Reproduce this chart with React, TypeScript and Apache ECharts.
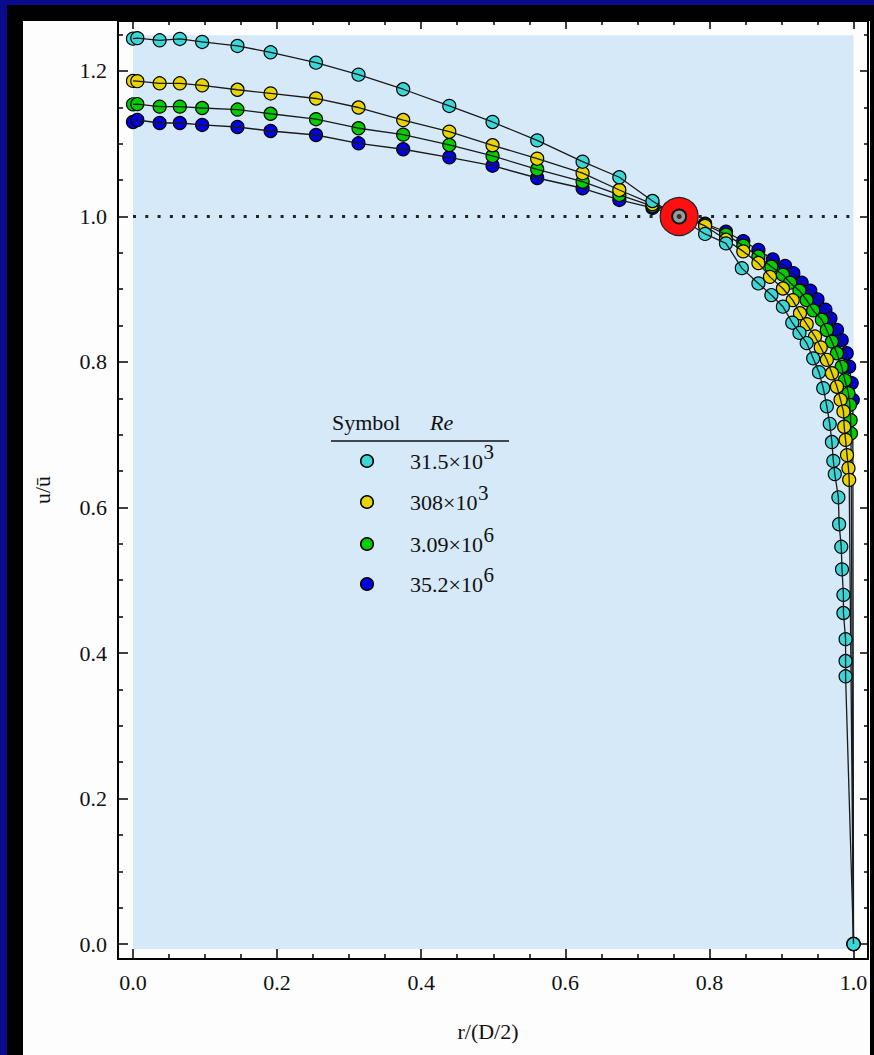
import React, { useEffect, useRef } from "react";
import * as echarts from "echarts";

// ---------- tick values ----------
const xMajor = [0, 0.2, 0.4, 0.6, 0.8, 1.0];
const xMinor = [0.05, 0.1, 0.15, 0.25, 0.3, 0.35, 0.45, 0.5, 0.55, 0.65, 0.7, 0.75, 0.85, 0.9, 0.95];
const yMajor = [0, 0.2, 0.4, 0.6, 0.8, 1.0, 1.2];
const yMinor = [0.05, 0.1, 0.15, 0.25, 0.3, 0.35, 0.45, 0.5, 0.55, 0.65, 0.7, 0.75, 0.85, 0.9, 0.95, 1.05, 1.1, 1.15, 1.25];

// ---------- data ----------
// core-region radial positions (shared by every Re)
const coreX = [0, 0.006, 0.037, 0.065, 0.096, 0.145, 0.191, 0.254, 0.313, 0.375, 0.439, 0.499, 0.561, 0.624, 0.675, 0.721];

const cyanCoreY = [1.2444, 1.2452, 1.2422, 1.244, 1.2399, 1.2344, 1.2257, 1.2114, 1.1949, 1.1749, 1.1519, 1.1299, 1.1046, 1.0753, 1.0539, 1.0213];
const yellowCoreY = [1.1863, 1.186, 1.1831, 1.1831, 1.1803, 1.1742, 1.1691, 1.1622, 1.1498, 1.1326, 1.1165, 1.0979, 1.0794, 1.0595, 1.0364, 1.017];
const greenCoreY = [1.1542, 1.1545, 1.151, 1.151, 1.1491, 1.147, 1.1412, 1.1337, 1.1213, 1.1125, 1.0983, 1.0832, 1.0649, 1.0478, 1.0296, 1.0144];
const blueCoreY = [1.1299, 1.1326, 1.1285, 1.1285, 1.1258, 1.123, 1.1175, 1.112, 1.1006, 1.0924, 1.0814, 1.0698, 1.0529, 1.0388, 1.0227, 1.0117];

// near-wall region, per Re
const cyanWallX = [0.794, 0.823, 0.845, 0.868, 0.886, 0.902, 0.915, 0.925, 0.935, 0.944, 0.952, 0.958, 0.963, 0.967, 0.97, 0.972, 0.974, 0.979, 0.98, 0.983, 0.984, 0.986, 0.986, 0.989, 0.989, 0.989, 1.0];
const cyanWallY = [0.976, 0.963, 0.929, 0.908, 0.892, 0.876, 0.854, 0.84, 0.826, 0.805, 0.786, 0.764, 0.739, 0.715, 0.69, 0.664, 0.646, 0.614, 0.577, 0.546, 0.515, 0.48, 0.455, 0.419, 0.389, 0.368, 0.0];

const yellowWallX = [0.794, 0.823, 0.847, 0.868, 0.884, 0.902, 0.9156, 0.9257, 0.935, 0.9466, 0.9545, 0.963, 0.97, 0.977, 0.982, 0.986, 0.987, 0.989, 0.991, 0.993, 0.994, 1.0];
const yellowWallY = [0.987, 0.968, 0.952, 0.936, 0.917, 0.901, 0.885, 0.867, 0.852, 0.835, 0.82, 0.803, 0.7845, 0.766, 0.748, 0.732, 0.711, 0.693, 0.672, 0.654, 0.638, 0.0];

const greenWallX = [0.794, 0.823, 0.847, 0.868, 0.886, 0.902, 0.912, 0.925, 0.935, 0.944, 0.956, 0.963, 0.97, 0.977, 0.9836, 0.988, 0.993, 0.995, 0.996, 0.9965, 1.0];
const greenWallY = [0.989, 0.975, 0.96, 0.945, 0.931, 0.92, 0.909, 0.898, 0.885, 0.871, 0.858, 0.844, 0.828, 0.812, 0.7935, 0.775, 0.757, 0.741, 0.72, 0.702, 0.0];

const blueWallX = [0.794, 0.823, 0.847, 0.868, 0.888, 0.905, 0.9165, 0.928, 0.94, 0.95, 0.961, 0.968, 0.977, 0.9836, 0.9905, 0.994, 0.9975, 0.999, 1.0];
const blueWallY = [0.99, 0.979, 0.966, 0.954, 0.941, 0.932, 0.922, 0.909, 0.898, 0.886, 0.872, 0.86, 0.844, 0.83, 0.812, 0.7935, 0.771, 0.748, 0.0];

// crossing point u/ū = 1
const crossX = [0.758];
const crossY = [1.0];

// legend
const reMantissa = ["31.5×10", "308×10", "3.09×10", "35.2×10"];
const reExponent = ["3", "3", "6", "6"];
const seriesColors = ["#3cd6d6", "#e8d400", "#00cc00", "#0000e0"];

const FONT = "'Liberation Serif', 'Times New Roman', serif";

function zip(xs: number[], ys: number[]) {
  return xs.map((x, i) => [x, ys[i]]);
}

function measure(text: string, size: number) {
  const ctx = document.createElement("canvas").getContext("2d");
  if (!ctx) return text.length * size * 0.5;
  ctx.font = `${size}px 'Liberation Serif'`;
  return ctx.measureText(text).width;
}

export default function App() {
  const ref = useRef<HTMLDivElement>(null);

  useEffect(() => {
    if (!ref.current) return;
    const chart = echarts.init(ref.current, null, { renderer: "svg" });

    const datasets = [
      { name: "35.2e6", color: seriesColors[3], data: zip(coreX, blueCoreY).concat(zip(blueWallX, blueWallY)) },
      { name: "3.09e6", color: seriesColors[2], data: zip(coreX, greenCoreY).concat(zip(greenWallX, greenWallY)) },
      { name: "308e3", color: seriesColors[1], data: zip(coreX, yellowCoreY).concat(zip(yellowWallX, yellowWallY)) },
      { name: "31.5e3", color: seriesColors[0], data: zip(coreX, cyanCoreY).concat(zip(cyanWallX, cyanWallY)) },
    ];

    const series: any[] = [
      {
        type: "line",
        name: "bg",
        data: [],
        z: 0,
        silent: true,
        markArea: {
          silent: true,
          itemStyle: { color: "#d6e9f9" },
          data: [[{ coord: [0, -0.007] }, { coord: [1.0, 1.249] }]],
        },
      },
      {
        type: "line",
        name: "unity",
        data: [[0, 1], [1, 1]],
        symbol: "none",
        z: 1,
        silent: true,
        lineStyle: { color: "#222", width: 3, type: [3, 9.3] },
      },
    ];

    datasets.forEach((d, i) => {
      series.push({
        type: "scatter",
        name: d.name + "-pts",
        data: d.data,
        symbol: "circle",
        symbolSize: 13,
        z: 2 + 2 * i,
        itemStyle: { color: d.color, borderColor: "#000", borderWidth: 1.2, opacity: 1 },
      });
      series.push({
        type: "line",
        name: d.name + "-line",
        data: d.data,
        symbol: "none",
        z: 3 + 2 * i,
        lineStyle: { color: "#1a1a1a", width: 1.3 },
      });
    });

    series.push({
      type: "scatter",
      name: "cross",
      data: zip(crossX, crossY),
      symbol: "circle",
      symbolSize: 38,
      z: 20,
      itemStyle: { color: "#ff1010", borderColor: "#222", borderWidth: 1.2, opacity: 1 },
    });
    series.push({
      type: "scatter",
      name: "crossCenter",
      data: zip(crossX, crossY),
      symbol: "circle",
      symbolSize: 14,
      z: 21,
      itemStyle: { color: "#9a9a9a", borderColor: "#111", borderWidth: 2, opacity: 1 },
    });
    series.push({
      type: "scatter",
      name: "crossDot",
      data: zip(crossX, crossY),
      symbol: "circle",
      symbolSize: 5,
      z: 22,
      itemStyle: { color: "#333", opacity: 1 },
    });

    const tickStyle = { color: "#000", width: 1.5 };
    const lineStyle = { color: "#000", width: 2 };
    const labelStyle = { fontFamily: FONT, fontSize: 22, color: "#111" };
    const xMin = -0.0208, xMax = 1.0201, yMin = -0.0206, yMax = 1.2687;

    const mkX = (pos: string, ticks: number[], len: number, showLine: boolean, showLabel: boolean) => ({
      type: "value",
      position: pos,
      min: xMin,
      max: xMax,
      splitLine: { show: false },
      axisLine: { show: showLine, onZero: false, lineStyle },
      axisTick: { show: true, inside: true, length: len, customValues: ticks, lineStyle: tickStyle },
      axisLabel: showLabel
        ? { show: true, customValues: xMajor, margin: 12, formatter: (v: number) => v.toFixed(1), ...labelStyle }
        : { show: false },
    });
    const mkY = (pos: string, ticks: number[], len: number, showLine: boolean, showLabel: boolean) => ({
      type: "value",
      position: pos,
      min: yMin,
      max: yMax,
      splitLine: { show: false },
      axisLine: { show: showLine, onZero: false, lineStyle },
      axisTick: { show: true, inside: true, length: len, customValues: ticks, lineStyle: tickStyle },
      axisLabel: showLabel
        ? { show: true, customValues: yMajor, margin: 11, formatter: (v: number) => v.toFixed(1), ...labelStyle }
        : { show: false },
    });

    // legend graphics
    const legendRowsY = [461, 502, 544, 584];
    const graphics: any[] = [
      { type: "text", x: 332, y: 422, z: 50, style: { text: "Symbol", fontSize: 22, fontFamily: FONT, fill: "#111", align: "left", verticalAlign: "middle" } },
      { type: "text", x: 430, y: 422, z: 50, style: { text: "Re", fontSize: 22, fontStyle: "italic", fontFamily: FONT, fill: "#111", align: "left", verticalAlign: "middle" } },
      { type: "line", z: 50, shape: { x1: 331, y1: 441, x2: 509, y2: 441 }, style: { stroke: "#111", lineWidth: 1.5 } },
      { type: "text", x: 42, y: 490, rotation: Math.PI / 2, z: 50, style: { text: "u/\u016B", fontSize: 22, fontFamily: FONT, fill: "#111", align: "center", verticalAlign: "middle" } },
      { type: "text", x: 488, y: 1031, z: 50, style: { text: "r/(D/2)", fontSize: 22, fontFamily: FONT, fill: "#111", align: "center", verticalAlign: "middle" } },
    ];
    legendRowsY.forEach((cy, i) => {
      graphics.push({ type: "circle", z: 50, shape: { cx: 367, cy, r: 6.3 }, style: { fill: seriesColors[i], stroke: "#000", lineWidth: 1.5 } });
      graphics.push({ type: "text", x: 410, y: cy, z: 50, style: { text: reMantissa[i], fontSize: 22, fontFamily: FONT, fill: "#111", align: "left", verticalAlign: "middle" } });
      const w = measure(reMantissa[i], 22);
      graphics.push({ type: "text", x: 410 + w + 0.5, y: cy - 9, z: 50, style: { text: reExponent[i], fontSize: 21, fontFamily: FONT, fill: "#111", align: "left", verticalAlign: "middle" } });
    });

    chart.setOption({
      animation: false,
      backgroundColor: "transparent",
      grid: { left: 118, right: 6, top: 21, bottom: 96, containLabel: false },
      xAxis: [
        mkX("bottom", xMajor, 10, true, true),
        mkX("bottom", xMinor, 5, false, false),
        mkX("top", xMajor, 8, true, false),
        mkX("top", xMinor, 4, false, false),
      ],
      yAxis: [
        mkY("left", yMajor, 10, true, true),
        mkY("left", yMinor, 5, false, false),
        mkY("right", yMajor, 8, true, false),
        mkY("right", yMinor, 4, false, false),
      ],
      series,
      graphic: { elements: graphics },
    });

    return () => chart.dispose();
  }, []);

  return (
    <div style={{ position: "fixed", left: 0, top: 0, width: 874, height: 1055, background: "#0a0a8c", overflow: "hidden" }}>
      <div style={{ position: "absolute", left: 7, top: 5, width: 867, height: 1050, background: "#000" }} />
      <div style={{ position: "absolute", left: 23, top: 21, width: 847, height: 1034, background: "#fdfdfd" }} />
      <div ref={ref} style={{ position: "absolute", left: 0, top: 0, width: 874, height: 1055 }} />
    </div>
  );
}
